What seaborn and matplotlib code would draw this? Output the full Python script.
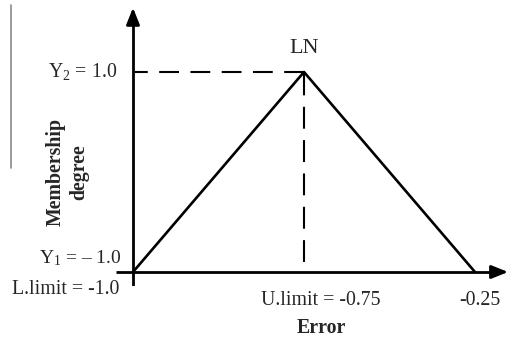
import matplotlib
matplotlib.use("Agg")
import matplotlib.pyplot as plt
from matplotlib.lines import Line2D
import seaborn as sns
import pandas as pd

# Data
x_labels = ["L.limit = -1.0", "U.limit = -0.75", "-0.25"]
x_pos = [0, 1, 2]
membership = [0, 1, 0]
y_labels = ["Y$_1$ = \u2013 1.0", "Y$_2$ = 1.0"]
peak_label = "LN"
x_title = "Error"
y_title = "Membership\ndegree"

sns.set_style("white")
plt.rcParams['font.family'] = ['Liberation Serif', 'DejaVu Serif']
plt.rcParams['mathtext.fontset'] = 'custom'
plt.rcParams['mathtext.rm'] = 'Liberation Serif'
plt.rcParams['mathtext.it'] = 'Liberation Serif:italic'

fig = plt.figure(figsize=(5.11, 3.44), dpi=100)
ax = fig.add_axes([0.2268, 0.1686, 0.773, 0.8198])
xlim = (-0.1, 2.21)
ylim = (-0.07, 1.34)
ax.set_xlim(*xlim)
ax.set_ylim(*ylim)
for s in ax.spines.values():
    s.set_visible(False)
ax.set_xticks([])
ax.set_yticks([])

df = pd.DataFrame({"x": x_pos, "m": membership})
sns.lineplot(data=df, x="x", y="m", color="black", linewidth=1.9, ax=ax)
ax.set_xlabel("")
ax.set_ylabel("")

# axes with arrows
ax.plot([xlim[0], 2.1], [0, 0], color="black", lw=2.0, solid_capstyle="butt")
ax.plot([0, 0], [ylim[0], 1.25], color="black", lw=2.0, solid_capstyle="butt")
ax.annotate("", xy=(xlim[1], 0), xytext=(2.08, 0),
            arrowprops=dict(arrowstyle="-|>,head_length=1.0,head_width=0.4", color="black", lw=2.0))
ax.annotate("", xy=(0, ylim[1] - 0.005), xytext=(0, 1.22),
            arrowprops=dict(arrowstyle="-|>,head_length=1.0,head_width=0.4", color="black", lw=2.0))

# dashed guides
peak_x = x_pos[1]
peak_y = membership[1]
ax.plot([peak_x, 0.01], [peak_y, peak_y], color="black", lw=1.5, linestyle=(0, (9.5, 5.5)))
ax.plot([peak_x, peak_x], [0.05, peak_y], color="black", lw=1.5, linestyle=(0, (10.5, 5.5)))

fs = 14.3
ax.text(peak_x, peak_y + 0.07, peak_label, ha="center", va="bottom", fontsize=16)
ax.text(-0.09, 1.0, y_labels[1], ha="right", va="center", fontsize=fs)
ax.text(-0.065, 0.07, y_labels[0], ha="right", va="center", fontsize=14)
ax.text(-0.08, -0.085, x_labels[0], ha="right", va="center", fontsize=fs)
ax.text(1.1, -0.14, x_labels[1], ha="center", va="center", fontsize=fs)
ax.text(2.03, -0.14, x_labels[2], ha="center", va="center", fontsize=fs)
ax.text(1.1, -0.28, x_title, ha="center", va="center", fontsize=fs, fontweight="bold")
ax.text(-0.385, 0.5, y_title, ha="center", va="center", fontsize=fs, fontweight="bold",
        rotation=90, linespacing=1.25)

# stray gray bar on left edge
fig.add_artist(Line2D([11 / 511, 11 / 511], [1 - 5 / 344, 1 - 168 / 344], color="#8a8a8a", lw=1.2))

fig.savefig("out.png", dpi=100)
